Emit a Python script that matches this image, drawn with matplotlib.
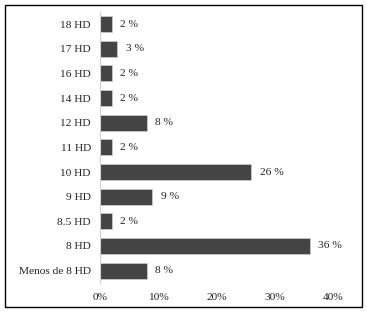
import matplotlib
matplotlib.use("Agg")
import matplotlib.pyplot as plt
from matplotlib.patches import Rectangle

categories = ["18 HD", "17 HD", "16 HD", "14 HD", "12 HD", "11 HD", "10 HD", "9 HD", "8.5 HD", "8 HD", "Menos de 8 HD"]
values = [2, 3, 2, 2, 8, 2, 26, 9, 2, 36, 8]
xticks = [0, 10, 20, 30, 40]
xticklabels = ["0%", "10%", "20%", "30%", "40%"]

plt.rcParams['font.family'] = ['Liberation Serif', 'DejaVu Serif']
fs = 8.2
fig = plt.figure(figsize=(3.67, 3.12), dpi=100)
ax = fig.add_axes([0.2725, 0.093, 0.907 - 0.2725, 0.9625 - 0.093])

ypos = list(range(len(categories)))[::-1]
ax.barh(ypos, values, height=0.66, color="#444444", edgecolor="#d0d0d0", linewidth=0.5)
for y, v in zip(ypos, values):
    ax.text(v + 1.4, y, f"{v} %", va="center", ha="left", fontsize=fs, color="#222222")

ax.set_yticks(ypos)
ax.set_yticklabels(categories, fontsize=fs, color="#222222")
ax.set_xticks(xticks)
ax.set_xticklabels(xticklabels, fontsize=fs, color="#222222")
ax.set_xlim(0, 40)
ax.set_ylim(-0.5, len(categories) - 0.5)
ax.tick_params(axis="both", length=0)
ax.tick_params(axis="y", pad=6.5)
ax.tick_params(axis="x", pad=7.5)
for s in ["top", "right", "bottom"]:
    ax.spines[s].set_visible(False)
ax.spines["left"].set_color("#d0d0d0")
ax.spines["left"].set_linewidth(0.8)

fig.patches.append(Rectangle((5 / 367, 5 / 312), 357 / 367, 302 / 312, transform=fig.transFigure,
                             fill=False, edgecolor="black", linewidth=1.0))
fig.savefig("out.png", dpi=100)
